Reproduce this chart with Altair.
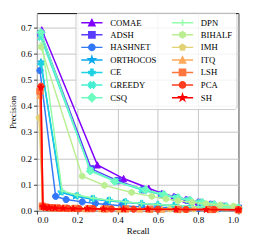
import math
import altair as alt
import pandas as pd

METHODS = ["COMAE", "ADSH", "HASHNET", "ORTHOCOS", "CE", "GREEDY", "CSQ",
           "DPN", "BIHALF", "IMH", "ITQ", "LSH", "PCA", "SH"]
COLORS = ["#8000ff", "#583dfd", "#3177f8", "#0aa9ee", "#1dd2e2", "#45eed2", "#6cfdbf",
          "#93fda9", "#baee91", "#e2d276", "#ffa95a", "#ff773d", "#ff3d1f", "#ff0000"]
MARKERS = ["^", "s", "o", "*", "P", "X", "D", "+", "h", "p", "^", "s", "o", "*"]

COMAE_R = [0.024, 0.30, 0.43, 0.555, 0.62, 0.68, 0.74, 0.80, 0.86, 0.92, 0.97, 1.0]
COMAE_P = [0.690, 0.175, 0.123, 0.086, 0.066, 0.055, 0.044, 0.034, 0.026, 0.018, 0.013, 0.010]
ADSH_R = [0.02, 0.27, 0.40, 0.53, 0.62, 0.69, 0.75, 0.81, 0.87, 0.93, 1.0]
ADSH_P = [0.675, 0.160, 0.115, 0.080, 0.062, 0.050, 0.040, 0.032, 0.024, 0.017, 0.010]
HASHNET_R = [0.015, 0.093, 0.145, 0.225, 0.29, 0.345, 0.42, 0.52, 0.60, 0.70, 0.80, 0.90, 1.0]
HASHNET_P = [0.535, 0.055, 0.043, 0.034, 0.028, 0.024, 0.019, 0.015, 0.013, 0.011, 0.009, 0.008, 0.007]
ORTHOCOS_R = [0.02, 0.12, 0.19, 0.27, 0.35, 0.43, 0.52, 0.60, 0.68, 0.76, 0.84, 0.92, 1.0]
ORTHOCOS_P = [0.567, 0.070, 0.055, 0.045, 0.038, 0.032, 0.027, 0.022, 0.018, 0.015, 0.012, 0.010, 0.008]
CE_R = [0.02, 0.123, 0.20, 0.28, 0.36, 0.44, 0.52, 0.60, 0.68, 0.76, 0.84, 0.92, 1.0]
CE_P = [0.56, 0.073, 0.058, 0.047, 0.040, 0.034, 0.028, 0.024, 0.020, 0.016, 0.013, 0.011, 0.009]
GREEDY_R = [0.02, 0.265, 0.39, 0.52, 0.62, 0.69, 0.75, 0.81, 0.87, 0.93, 1.0]
GREEDY_P = [0.660, 0.155, 0.113, 0.079, 0.061, 0.050, 0.041, 0.033, 0.025, 0.018, 0.011]
CSQ_R = [0.02, 0.265, 0.385, 0.54, 0.63, 0.70, 0.76, 0.82, 0.88, 0.94, 1.0]
CSQ_P = [0.680, 0.152, 0.112, 0.080, 0.062, 0.050, 0.040, 0.032, 0.024, 0.017, 0.011]
DPN_R = [0.025, 0.125, 0.20, 0.28, 0.36, 0.44, 0.52, 0.60, 0.70, 0.80, 0.90, 1.0]
DPN_P = [0.640, 0.076, 0.060, 0.048, 0.040, 0.034, 0.028, 0.024, 0.019, 0.015, 0.012, 0.009]
BIHALF_R = [0.02, 0.225, 0.335, 0.47, 0.57, 0.64, 0.70, 0.77, 0.84, 0.91, 0.976]
BIHALF_P = [0.625, 0.132, 0.097, 0.070, 0.055, 0.045, 0.038, 0.032, 0.027, 0.022, 0.018]
IMH_R = [0.01, 0.03, 0.06, 0.10, 0.15, 0.21, 0.28, 0.36, 0.45, 0.55, 0.66, 0.78, 0.89, 1.0]
IMH_P = [0.355, 0.014, 0.012, 0.011, 0.010, 0.009, 0.008, 0.008, 0.007, 0.007, 0.006, 0.006, 0.005, 0.005]
ITQ_R = [0.015, 0.028, 0.05, 0.08, 0.12, 0.17, 0.24, 0.32, 0.41, 0.51, 0.62, 0.74, 0.87, 1.0]
ITQ_P = [0.440, 0.016, 0.013, 0.011, 0.010, 0.009, 0.008, 0.008, 0.007, 0.007, 0.006, 0.006, 0.005, 0.004]
LSH_R = [0.015, 0.027, 0.045, 0.07, 0.10, 0.14, 0.19, 0.26, 0.34, 0.44, 0.56, 0.70, 0.86, 1.0]
LSH_P = [0.455, 0.018, 0.014, 0.012, 0.011, 0.010, 0.009, 0.008, 0.007, 0.007, 0.006, 0.005, 0.005, 0.004]
PCA_R = [0.02, 0.03, 0.05, 0.075, 0.11, 0.155, 0.21, 0.28, 0.37, 0.48, 0.60, 0.74, 0.88, 1.0]
PCA_P = [0.475, 0.017, 0.013, 0.011, 0.010, 0.009, 0.008, 0.008, 0.007, 0.006, 0.006, 0.005, 0.005, 0.004]
SH_R = [0.02, 0.03, 0.04, 0.06, 0.09, 0.13, 0.18, 0.25, 0.33, 0.43, 0.55, 0.69, 0.84, 1.0]
SH_P = [0.470, 0.015, 0.012, 0.011, 0.010, 0.009, 0.008, 0.008, 0.007, 0.006, 0.006, 0.005, 0.004, 0.004]

SERIES = {
    "COMAE": (COMAE_R, COMAE_P), "ADSH": (ADSH_R, ADSH_P), "HASHNET": (HASHNET_R, HASHNET_P),
    "ORTHOCOS": (ORTHOCOS_R, ORTHOCOS_P), "CE": (CE_R, CE_P), "GREEDY": (GREEDY_R, GREEDY_P),
    "CSQ": (CSQ_R, CSQ_P), "DPN": (DPN_R, DPN_P), "BIHALF": (BIHALF_R, BIHALF_P),
    "IMH": (IMH_R, IMH_P), "ITQ": (ITQ_R, ITQ_P), "LSH": (LSH_R, LSH_P),
    "PCA": (PCA_R, PCA_P), "SH": (SH_R, SH_P),
}

FONT = "Liberation Serif"
FS = 9.3
LFS = 9.0


def poly(pts, k):
    return "M" + "L".join(f"{x * k:.3f},{y * k:.3f}" for x, y in pts) + "Z"


def regular(n, r=1.0, rot=-90):
    return [(r * math.cos(math.radians(rot + 360 * i / n)),
             r * math.sin(math.radians(rot + 360 * i / n))) for i in range(n)]


def star_pts():
    pts = []
    for i in range(10):
        rr = 1.0 if i % 2 == 0 else 0.382
        a = math.radians(-90 + 36 * i)
        pts.append((rr * math.cos(a), rr * math.sin(a)))
    return pts


PLUS = [(-1, -3), (-1, -1), (-3, -1), (-3, 1), (-1, 1), (-1, 3), (1, 3), (1, 1), (3, 1), (3, -1), (1, -1), (1, -3)]
XF = [(-1, -2), (0, -1), (1, -2), (2, -1), (1, 0), (2, 1), (1, 2), (0, 1), (-1, 2), (-2, 1), (-1, 0), (-2, -1)]


def marker_path(m, k):
    if m == "^":
        return poly([(0, -1), (1, 1), (-1, 1)], k)
    if m == "s":
        return poly([(-1, -1), (1, -1), (1, 1), (-1, 1)], k)
    if m == "o":
        return f"M{k:.3f},0A{k:.3f},{k:.3f} 0 1,1 {-k:.3f},0A{k:.3f},{k:.3f} 0 1,1 {k:.3f},0Z"
    if m == "*":
        return poly(star_pts(), k * 1.1)
    if m == "P":
        return poly([(x / 3, y / 3) for x, y in PLUS], k)
    if m == "X":
        return poly([(x / 2, y / 2) for x, y in XF], k)
    if m == "D":
        return poly([(0, -1.3), (1.3, 0), (0, 1.3), (-1.3, 0)], k)
    if m == "+":
        return f"M{-k:.3f},0H{k:.3f}M0,{-k:.3f}V{k:.3f}"
    if m == "h":
        return poly(regular(6), k)
    if m == "p":
        return poly(regular(5), k)
    return "circle"


LEG_BOX = 10.0      # nominal legend symbol box (px)
LEG_LINE = 22.0     # drawn legend line length (px)
MS = 6.5
half = LEG_LINE / LEG_BOX
LEG_SHAPES = [f"M{-half:.3f},0H{half:.3f}" + marker_path(m, MS / LEG_BOX) for m in MARKERS]

xs = alt.Scale(domain=[0, 1], nice=False, zero=False)
ys = alt.Scale(domain=[0, 0.7535], nice=False, zero=False)
x_axis = alt.Axis(values=[0, 0.2, 0.4, 0.6, 0.8, 1.0], format=".1f", title="Recall",
                  titlePadding=2)
y_axis = alt.Axis(values=[0, 0.1, 0.2, 0.3, 0.4, 0.5, 0.6, 0.7], format=".1f",
                  title="Precision", titlePadding=3)

layers = []
for name, color, mk in zip(METHODS, COLORS, MARKERS):
    r, p = SERIES[name]
    df = pd.DataFrame({"recall": r, "precision": p, "method": name})
    base = alt.Chart(df).encode(
        x=alt.X("recall:Q", scale=xs, axis=x_axis),
        y=alt.Y("precision:Q", scale=ys, axis=y_axis),
    )
    layers.append(base.mark_line(color=color, strokeWidth=1.5, clip=True))
    layers.append(base.mark_point(shape=marker_path(mk, 1.0), size=MS * MS, filled=True,
                                  fill=color, stroke=color, strokeWidth=1, opacity=1))

leg_df = pd.DataFrame({"method": METHODS, "recall": [0.5] * 14, "precision": [0.5] * 14})
leg_common = dict(
    title=None, orient="none", legendX=40, legendY=-0.5, columns=2,
    symbolSize=LEG_BOX * LEG_BOX, symbolStrokeWidth=1.5, symbolOffset=7,
    labelFont=FONT, labelFontSize=LFS, labelColor="black", labelOffset=13,
    fillColor="rgba(255,255,255,0.8)", strokeColor="#cccccc",
    cornerRadius=3, padding=4, rowPadding=-1.8, columnPadding=13,
)
legend_layer = alt.Chart(leg_df).transform_filter("datum.recall > 2").mark_point(
    filled=True, opacity=1
).encode(
    x=alt.X("recall:Q", scale=xs, axis=x_axis),
    y=alt.Y("precision:Q", scale=ys, axis=y_axis),
    fill=alt.Fill("method:N", scale=alt.Scale(domain=METHODS, range=COLORS),
                  legend=alt.Legend(**leg_common)),
    stroke=alt.Stroke("method:N", scale=alt.Scale(domain=METHODS, range=COLORS),
                      legend=alt.Legend(**leg_common)),
    shape=alt.Shape("method:N", scale=alt.Scale(domain=METHODS, range=LEG_SHAPES),
                    legend=alt.Legend(**leg_common)),
)
layers.append(legend_layer)

chart = alt.layer(*layers).properties(
    width=209, height=205,
    padding={"left": 0, "top": 0, "right": 5, "bottom": 0},
).configure(
    background="white"
).configure_view(
    stroke="black", strokeWidth=1
).configure_axis(
    grid=True, gridColor="#c4c4c4", gridWidth=1, domain=False,
    tickColor="black", tickSize=3.5, tickWidth=0.8,
    labelFont=FONT, labelFontSize=FS, labelColor="black", labelPadding=2,
    titleFont=FONT, titleFontSize=FS, titleColor="black", titleFontWeight="normal",
)

chart.save("out.html", embed_options={"renderer": "svg", "actions": False})
